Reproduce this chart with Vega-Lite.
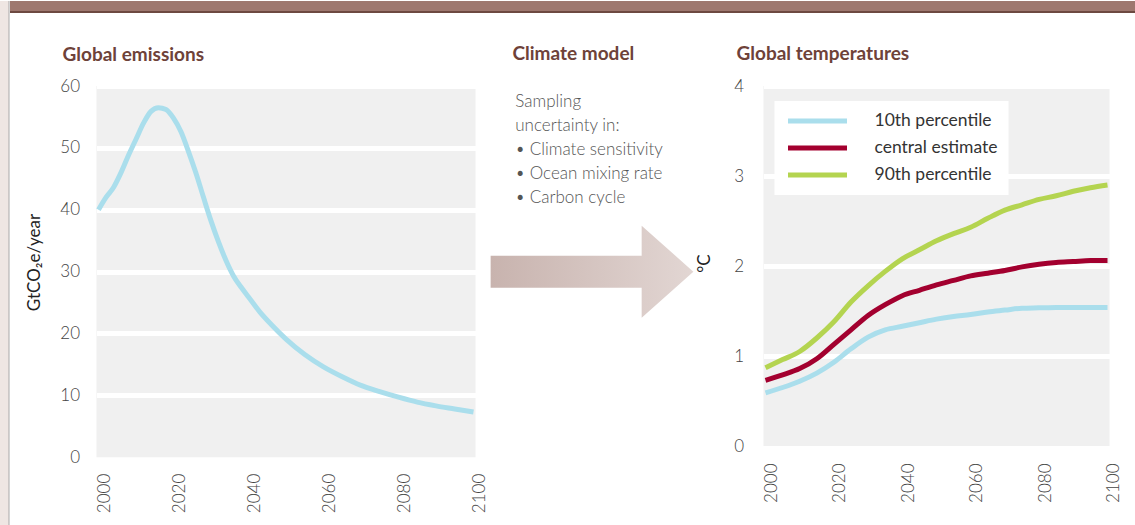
{
  "$schema": "https://vega.github.io/schema/vega-lite/v6.json",
  "background": "white",
  "padding": 0,
  "config": {
    "view": {"stroke": null},
    "font": "Lato",
    "title": {"font": "Lato", "fontSize": 19, "fontWeight": "bold", "color": "#6e4239", "anchor": "start", "frame": "group", "baseline": "alphabetic"},
    "axis": {
      "labelFont": "Lato", "labelFontWeight": 300, "labelFontSize": 17, "labelColor": "#444444",
      "domain": false, "ticks": false,
      "titleFont": "Lato", "titleFontWeight": "normal", "titleFontSize": 17, "titleColor": "#222222"
    },
    "legend": {"labelFont": "Lato", "labelFontSize": 17.5, "labelColor": "#333333"}
  },
  "datasets": {
    "emissions": [
      {"year": 2000, "value": 40.0}, {"year": 2002, "value": 42.0}, {"year": 2004, "value": 43.6},
      {"year": 2006, "value": 46.0}, {"year": 2008, "value": 48.8}, {"year": 2010, "value": 51.4},
      {"year": 2012, "value": 54.0}, {"year": 2014, "value": 55.9}, {"year": 2016, "value": 56.5},
      {"year": 2018, "value": 56.2}, {"year": 2020, "value": 54.8}, {"year": 2022, "value": 52.6},
      {"year": 2024, "value": 49.4}, {"year": 2026, "value": 45.9}, {"year": 2028, "value": 42.0},
      {"year": 2030, "value": 38.2}, {"year": 2032, "value": 34.8}, {"year": 2034, "value": 31.8},
      {"year": 2036, "value": 29.3}, {"year": 2038, "value": 27.5}, {"year": 2040, "value": 25.9},
      {"year": 2043, "value": 23.5}, {"year": 2046, "value": 21.5}, {"year": 2050, "value": 19.1},
      {"year": 2055, "value": 16.6}, {"year": 2060, "value": 14.6}, {"year": 2065, "value": 13.0},
      {"year": 2070, "value": 11.6}, {"year": 2075, "value": 10.6}, {"year": 2080, "value": 9.7},
      {"year": 2085, "value": 8.9}, {"year": 2090, "value": 8.3}, {"year": 2095, "value": 7.8},
      {"year": 2100, "value": 7.3}
    ],
    "temperatures": [
      {"year": 2000, "series": "10th percentile", "value": 0.59},
      {"year": 2005, "series": "10th percentile", "value": 0.65},
      {"year": 2010, "series": "10th percentile", "value": 0.72},
      {"year": 2015, "series": "10th percentile", "value": 0.81},
      {"year": 2020, "series": "10th percentile", "value": 0.93},
      {"year": 2025, "series": "10th percentile", "value": 1.08},
      {"year": 2030, "series": "10th percentile", "value": 1.21},
      {"year": 2035, "series": "10th percentile", "value": 1.29},
      {"year": 2040, "series": "10th percentile", "value": 1.33},
      {"year": 2045, "series": "10th percentile", "value": 1.37},
      {"year": 2050, "series": "10th percentile", "value": 1.41},
      {"year": 2055, "series": "10th percentile", "value": 1.44},
      {"year": 2060, "series": "10th percentile", "value": 1.46},
      {"year": 2065, "series": "10th percentile", "value": 1.49},
      {"year": 2070, "series": "10th percentile", "value": 1.51},
      {"year": 2075, "series": "10th percentile", "value": 1.53},
      {"year": 2080, "series": "10th percentile", "value": 1.535},
      {"year": 2085, "series": "10th percentile", "value": 1.54},
      {"year": 2090, "series": "10th percentile", "value": 1.54},
      {"year": 2095, "series": "10th percentile", "value": 1.54},
      {"year": 2100, "series": "10th percentile", "value": 1.54},
      {"year": 2000, "series": "central estimate", "value": 0.73},
      {"year": 2005, "series": "central estimate", "value": 0.79},
      {"year": 2010, "series": "central estimate", "value": 0.86},
      {"year": 2015, "series": "central estimate", "value": 0.97},
      {"year": 2020, "series": "central estimate", "value": 1.13},
      {"year": 2025, "series": "central estimate", "value": 1.29},
      {"year": 2030, "series": "central estimate", "value": 1.45},
      {"year": 2035, "series": "central estimate", "value": 1.57},
      {"year": 2040, "series": "central estimate", "value": 1.67},
      {"year": 2045, "series": "central estimate", "value": 1.73},
      {"year": 2050, "series": "central estimate", "value": 1.79},
      {"year": 2055, "series": "central estimate", "value": 1.84},
      {"year": 2060, "series": "central estimate", "value": 1.89},
      {"year": 2065, "series": "central estimate", "value": 1.92},
      {"year": 2070, "series": "central estimate", "value": 1.95},
      {"year": 2075, "series": "central estimate", "value": 1.99},
      {"year": 2080, "series": "central estimate", "value": 2.02},
      {"year": 2085, "series": "central estimate", "value": 2.04},
      {"year": 2090, "series": "central estimate", "value": 2.05},
      {"year": 2095, "series": "central estimate", "value": 2.06},
      {"year": 2100, "series": "central estimate", "value": 2.06},
      {"year": 2000, "series": "90th percentile", "value": 0.87},
      {"year": 2005, "series": "90th percentile", "value": 0.96},
      {"year": 2010, "series": "90th percentile", "value": 1.05},
      {"year": 2015, "series": "90th percentile", "value": 1.2},
      {"year": 2020, "series": "90th percentile", "value": 1.38},
      {"year": 2025, "series": "90th percentile", "value": 1.6},
      {"year": 2030, "series": "90th percentile", "value": 1.78},
      {"year": 2035, "series": "90th percentile", "value": 1.94},
      {"year": 2040, "series": "90th percentile", "value": 2.08},
      {"year": 2045, "series": "90th percentile", "value": 2.18},
      {"year": 2050, "series": "90th percentile", "value": 2.28},
      {"year": 2055, "series": "90th percentile", "value": 2.36},
      {"year": 2060, "series": "90th percentile", "value": 2.43},
      {"year": 2065, "series": "90th percentile", "value": 2.53},
      {"year": 2070, "series": "90th percentile", "value": 2.62},
      {"year": 2075, "series": "90th percentile", "value": 2.68},
      {"year": 2080, "series": "90th percentile", "value": 2.74},
      {"year": 2085, "series": "90th percentile", "value": 2.78},
      {"year": 2090, "series": "90th percentile", "value": 2.83},
      {"year": 2095, "series": "90th percentile", "value": 2.87},
      {"year": 2100, "series": "90th percentile", "value": 2.9}
    ],
    "notes": [
      {"line": 1, "text": "Sampling"},
      {"line": 2, "text": "uncertainty in:"},
      {"line": 3, "text": "• Climate sensitivity"},
      {"line": 4, "text": "• Ocean mixing rate"},
      {"line": 5, "text": "• Carbon cycle"}
    ]
  },
  "spacing": 0,
  "resolve": {"legend": {"color": "independent"}},
  "hconcat": [
    {
      "width": 9, "height": 525,
      "view": {"fill": "#efe6e3"},
      "data": {"values": [{}]},
      "mark": {"type": "rule", "stroke": "#a9a9a9", "strokeWidth": 1},
      "encoding": {
        "x": {"datum": 1, "type": "quantitative", "scale": {"domain": [0, 1], "nice": false}, "axis": null}
      }
    },
    {
      "spacing": 31,
      "resolve": {"legend": {"color": "independent"}},
      "vconcat": [
        {
          "spacing": 0,
          "vconcat": [
            {
              "width": 1126, "height": 10,
              "view": {"fill": "#9e786f"},
              "data": {"values": [{}]},
              "mark": {"type": "text", "fontSize": 0},
              "encoding": {"text": {"value": ""}}
            },
            {
              "width": 1126, "height": 2,
              "view": {"fill": "#6d4941"},
              "data": {"values": [{}]},
              "mark": {"type": "text", "fontSize": 0},
              "encoding": {"text": {"value": ""}}
            }
          ]
        },
        {
          "spacing": 14.5,
          "resolve": {"legend": {"color": "independent"}},
          "hconcat": [
            {
              "width": 1, "height": 400,
              "data": {"values": [{}]},
              "mark": {"type": "text", "fontSize": 0},
              "encoding": {"text": {"value": ""}}
            },
            {
              "spacing": 2,
              "resolve": {"legend": {"color": "independent"}},
              "hconcat": [
                {
                  "width": 379, "height": 371.2,
                  "view": {"fill": "#f0f0f0"},
                  "title": {"text": "Global emissions", "dx": -34, "offset": 12.5},
                  "data": {"name": "emissions"},
                  "mark": {"type": "line", "stroke": "#aadeec", "strokeWidth": 5, "interpolate": "monotone"},
                  "encoding": {
                    "x": {
                      "field": "year", "type": "quantitative",
                      "scale": {"domain": [2000, 2100], "nice": false, "padding": 2},
                      "axis": {"values": [2000, 2020, 2040, 2060, 2080, 2100], "format": "d", "labelAngle": -90, "labelPadding": 16, "labelOffset": 6, "grid": false, "title": null}
                    },
                    "y": {
                      "field": "value", "type": "quantitative",
                      "scale": {"domain": [0, 60], "nice": false, "zero": true},
                      "axis": {
                        "values": [0, 10, 20, 30, 40, 50, 60],
                        "labelPadding": 17,
                        "grid": true, "gridColor": "white", "gridWidth": 5,
                        "gridOpacity": {"condition": {"test": "datum.value === 0", "value": 0}, "value": 1},
                        "title": "GtCO₂e/year", "titlePadding": 16, "titleY": 176
                      }
                    }
                  }
                },
                {
                  "width": 203, "height": 371.2,
                  "title": {"text": "Climate model", "dx": 22, "offset": 21.6},
                  "layer": [
                    {
                      "data": {"name": "notes"},
                      "mark": {"type": "text", "align": "left", "baseline": "alphabetic", "font": "Lato", "fontWeight": 300, "fontSize": 17, "color": "#555555"},
                      "encoding": {
                        "x": {"datum": 0.122, "type": "quantitative", "scale": {"domain": [0, 1], "nice": false}, "axis": null},
                        "y": {"field": "line", "type": "quantitative", "scale": {"domain": [0.117, 15.583], "nice": false, "zero": false, "reverse": true}, "axis": null},
                        "text": {"field": "text"}
                      }
                    },
                    {
                      "data": {"values": [{}]},
                      "mark": {
                        "type": "point",
                        "shape": "M-1,-0.158L0.49,-0.158L0.49,-0.454L1,0L0.49,0.454L0.49,0.158L-1,0.158Z",
                        "size": 41100,
                        "filled": true,
                        "opacity": 1,
                        "strokeWidth": 0,
                        "fill": {"gradient": "linear", "x1": 0, "y1": 0, "x2": 1, "y2": 0, "stops": [{"offset": 0, "color": "#c8b3ae"}, {"offset": 1, "color": "#e2d6d3"}]}
                      },
                      "encoding": {
                        "x": {"datum": 0.5, "type": "quantitative"},
                        "y": {"datum": 7.854, "type": "quantitative"}
                      }
                    }
                  ]
                },
                {
                  "width": 346, "height": 360,
                  "view": {"fill": "#f0f0f0"},
                  "title": {"text": "Global temperatures", "dx": -27, "offset": 13.3},
                  "data": {"name": "temperatures"},
                  "mark": {"type": "line", "strokeWidth": 5, "interpolate": "monotone"},
                  "encoding": {
                    "x": {
                      "field": "year", "type": "quantitative",
                      "scale": {"domain": [2000, 2100], "nice": false, "padding": 2},
                      "axis": {"values": [2000, 2020, 2040, 2060, 2080, 2100], "format": "d", "labelAngle": -90, "labelPadding": 17, "labelOffset": 6, "grid": false, "title": null}
                    },
                    "y": {
                      "field": "value", "type": "quantitative",
                      "scale": {"domain": [0, 4], "nice": false, "zero": true},
                      "axis": {
                        "values": [0, 1, 2, 3, 4],
                        "labelPadding": 20,
                        "grid": true, "gridColor": "white", "gridWidth": 5,
                        "gridOpacity": {"condition": {"test": "datum.value === 0", "value": 0}, "value": 1},
                        "title": "°C", "titlePadding": 20, "titleY": 177
                      }
                    },
                    "color": {
                      "field": "series", "type": "nominal",
                      "scale": {"domain": ["10th percentile", "central estimate", "90th percentile"], "range": ["#aadeec", "#a3002f", "#b4d450"]},
                      "legend": {
                        "title": null, "orient": "none", "legendX": 11, "legendY": 15,
                        "fillColor": "white", "padding": 11,
                        "symbolType": "stroke", "symbolSize": 3481, "symbolStrokeWidth": 5,
                        "clipHeight": 18, "rowPadding": 9, "labelOffset": 25
                      }
                    }
                  }
                }
              ]
            }
          ]
        }
      ]
    }
  ]
}
